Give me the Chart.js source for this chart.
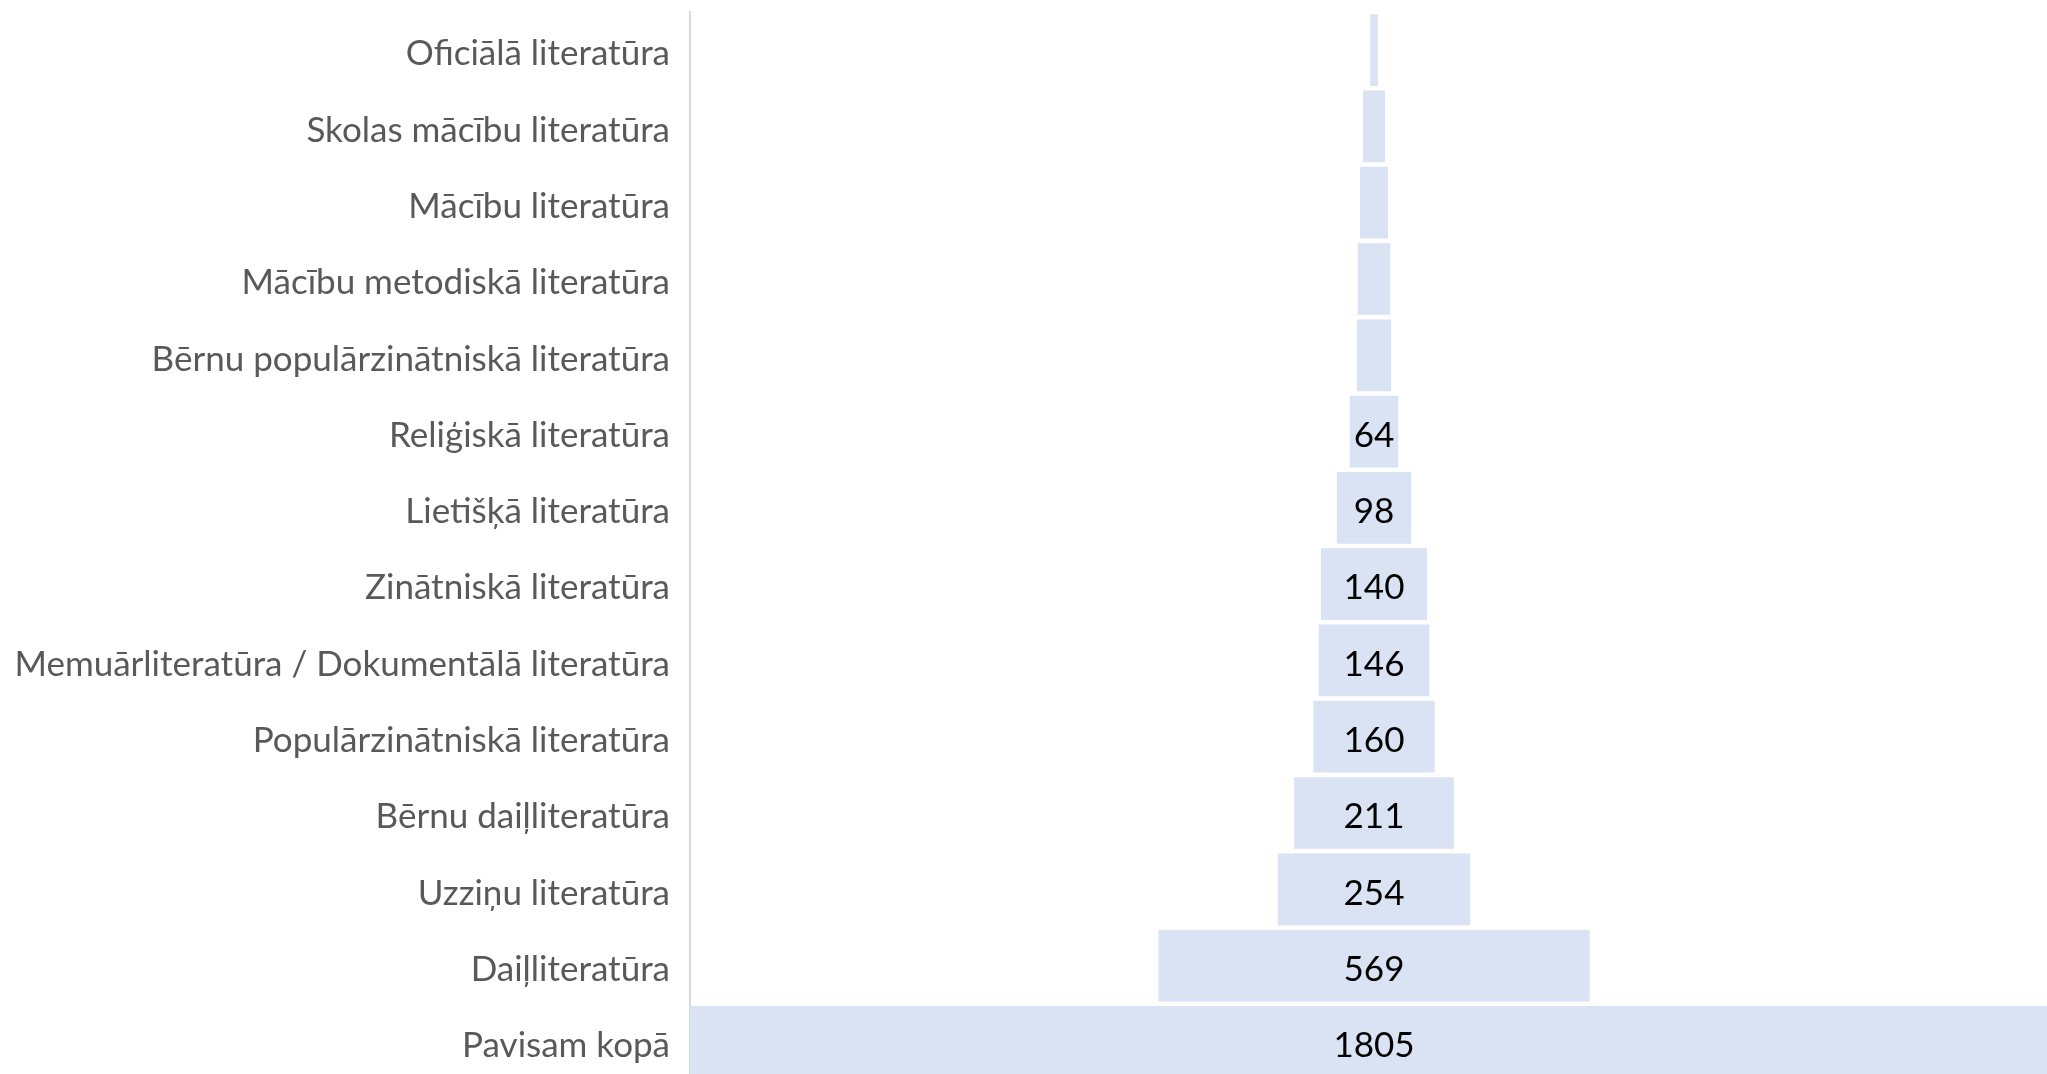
<!DOCTYPE html>
<html>
<head>
<meta charset="utf-8">
<script src="https://cdn.jsdelivr.net/npm/chart.js@4"></script>
<style>
  html, body { margin: 0; padding: 0; background: #ffffff; overflow: hidden; }
  #wrap { position: relative; width: 2058px; height: 1080px; }
</style>
</head>
<body>
<div id="wrap"><canvas id="c"></canvas></div>
<script>
const categories = [
  "Oficiālā literatūra",
  "Skolas mācību literatūra",
  "Mācību literatūra",
  "Mācību metodiskā literatūra",
  "Bērnu populārzinātniskā literatūra",
  "Reliģiskā literatūra",
  "Lietišķā literatūra",
  "Zinātniskā literatūra",
  "Memuārliteratūra / Dokumentālā literatūra",
  "Populārzinātniskā literatūra",
  "Bērnu daiļliteratūra",
  "Uzziņu literatūra",
  "Daiļliteratūra",
  "Pavisam kopā"
];
const values = [10, 29, 37, 43, 45, 64, 98, 140, 146, 160, 211, 254, 569, 1805];

const maxValue = Math.max(...values);
const funnelRanges = values.map(v => [(maxValue - v) / 2, (maxValue + v) / 2]);

const FONT = "Lato, 'Open Sans', sans-serif";
const FONT_SIZE = 35;

const funnelLabels = {
  id: 'funnelLabels',
  afterDatasetsDraw(chart) {
    const ctx = chart.ctx;
    const meta = chart.getDatasetMeta(0);
    ctx.save();
    ctx.font = FONT_SIZE + "px " + FONT;
    ctx.fillStyle = "#000000";
    ctx.textAlign = "center";
    ctx.textBaseline = "middle";
    meta.data.forEach((bar, i) => {
      const txt = String(values[i]);
      const w = Math.abs(bar.x - bar.base);
      const tw = ctx.measureText(txt).width;
      if (tw <= w) {
        const cx = (bar.x + bar.base) / 2;
        ctx.fillText(txt, cx, bar.y + 4);
      }
    });
    ctx.restore();
  }
};

new Chart(document.getElementById('c'), {
  type: 'bar',
  data: {
    labels: categories,
    datasets: [{
      data: funnelRanges,
      backgroundColor: '#dae3f3',
      borderWidth: 0,
      borderSkipped: false,
      categoryPercentage: 1.0,
      barPercentage: 0.94
    }]
  },
  options: {
    indexAxis: 'y',
    responsive: true,
    maintainAspectRatio: false,
    animation: false,
    layout: { padding: { top: 12, left: 0, right: 0, bottom: 0 } },
    plugins: {
      legend: { display: false },
      tooltip: { enabled: false },
      title: { display: false }
    },
    scales: {
      x: {
        display: false,
        min: 0,
        max: maxValue
      },
      y: {
        afterFit(scale) {
          scale.width = 690;
          scale.paddingTop = 0;
          scale.paddingBottom = 0;
        },
        grid: { display: false, drawTicks: false },
        border: { display: true, color: '#d9d9d9', width: 2 },
        ticks: {
          color: '#595959',
          padding: 20,
          labelOffset: 4,
          font: { family: FONT, size: FONT_SIZE }
        }
      }
    }
  },
  plugins: [funnelLabels]
});
</script>
</body>
</html>
